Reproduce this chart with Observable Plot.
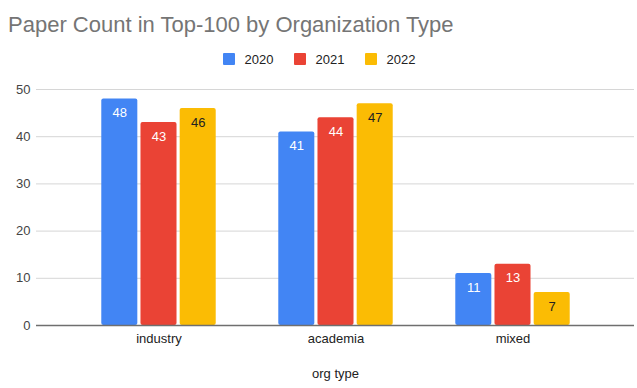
<!DOCTYPE html>
<html>
<head>
<meta charset="utf-8">
<script src="https://cdn.jsdelivr.net/npm/d3@7"></script>
<script src="https://cdn.jsdelivr.net/npm/@observablehq/plot@0.6"></script>
<style>
  html, body { margin: 0; padding: 0; background: #fff; }
  body { width: 637px; height: 388px; overflow: hidden; position: relative; font-family: "Liberation Sans", Arial, sans-serif; }
  #title { position: absolute; left: 8px; top: 13.5px; font-size: 22px; line-height: 1; color: #757575; white-space: nowrap; }
  .item { position: absolute; top: 53px; height: 12px; }
  .sw { position: absolute; left: 0; top: 0; width: 12px; height: 12px; border-radius: 1px; }
  .lt { position: absolute; left: 22px; top: 0; font-size: 13px; line-height: 1; color: #222; white-space: nowrap; }
  #chart { position: absolute; left: 0; top: 72px; }
</style>
</head>
<body>
<div id="title"></div>
<div id="legend"></div>
<div id="chart"></div>
<script>
const titleText = "Paper Count in Top-100 by Organization Type";
const orgTypes = ["industry", "academia", "mixed"];
const years = ["2020", "2021", "2022"];
const counts2020 = [48, 41, 11];
const counts2021 = [43, 44, 13];
const counts2022 = [46, 47, 7];
const yTicks = [0, 10, 20, 30, 40, 50];
const colors = ["#4285F4", "#EA4335", "#FBBC04"];
const labelColors = ["#ffffff", "#ffffff", "#222222"];

document.getElementById("title").textContent = titleText;

const legend = document.getElementById("legend");
years.forEach((yr, i) => {
  const it = document.createElement("div");
  it.className = "item";
  it.style.left = (222.5 + i * 71) + "px";
  const sw = document.createElement("div");
  sw.className = "sw";
  sw.style.background = colors[i];
  const tx = document.createElement("div");
  tx.className = "lt";
  tx.textContent = yr;
  it.appendChild(sw);
  it.appendChild(tx);
  legend.appendChild(it);
});

const series = [counts2020, counts2021, counts2022];
const rows = [];
years.forEach((yr, i) => orgTypes.forEach((org, j) => rows.push({org, year: yr, count: series[i][j]})));

const bandStep = (637 - 36 - 3 - 33 - 32) / orgTypes.length;
const barW = 36.7, gap = 2.5;
const groupW = 3 * barW + 2 * gap;
const lead = (bandStep - groupW) / 2;

const marks = [
  Plot.ruleY(yTicks.filter(d => d > 0), {stroke: "#d6d6d6", strokeWidth: 1})
];
years.forEach((yr, i) => {
  const left = lead + i * (barW + gap);
  const right = bandStep - left - barW;
  const data = rows.filter(r => r.year === yr);
  marks.push(Plot.barY(data, {x: "org", y: "count", fill: colors[i], insetLeft: left, insetRight: right, rx: 2}));
  marks.push(Plot.text(data, {
    x: "org", y: "count", text: d => String(d.count),
    dx: left + barW / 2 - bandStep / 2, dy: 14,
    fill: labelColors[i], fontSize: 13
  }));
});
marks.push(Plot.ruleY([0], {stroke: "#6f6f6f", strokeWidth: 1.5}));

const chart = Plot.plot({
  width: 637,
  height: 316,
  marginLeft: 36,
  marginRight: 3,
  marginTop: 17,
  marginBottom: 63,
  style: {fontFamily: "'Liberation Sans', Arial, sans-serif", fontSize: "13px", color: "#222", background: "#fff"},
  x: {domain: orgTypes, padding: 0, insetLeft: 33, insetRight: 32, tickSize: 0, tickPadding: 8,
      label: "org type", labelAnchor: "center", labelOffset: 52},
  y: {domain: [0, 50], ticks: yTicks, tickSize: 0, tickPadding: 6, label: null},
  marks
});
chart.querySelectorAll("g[aria-label='y-axis tick label'] text, g[aria-label='y-axis tick label']").forEach(e => e.setAttribute("fill", "#444"));
document.getElementById("chart").appendChild(chart);
</script>
</body>
</html>
